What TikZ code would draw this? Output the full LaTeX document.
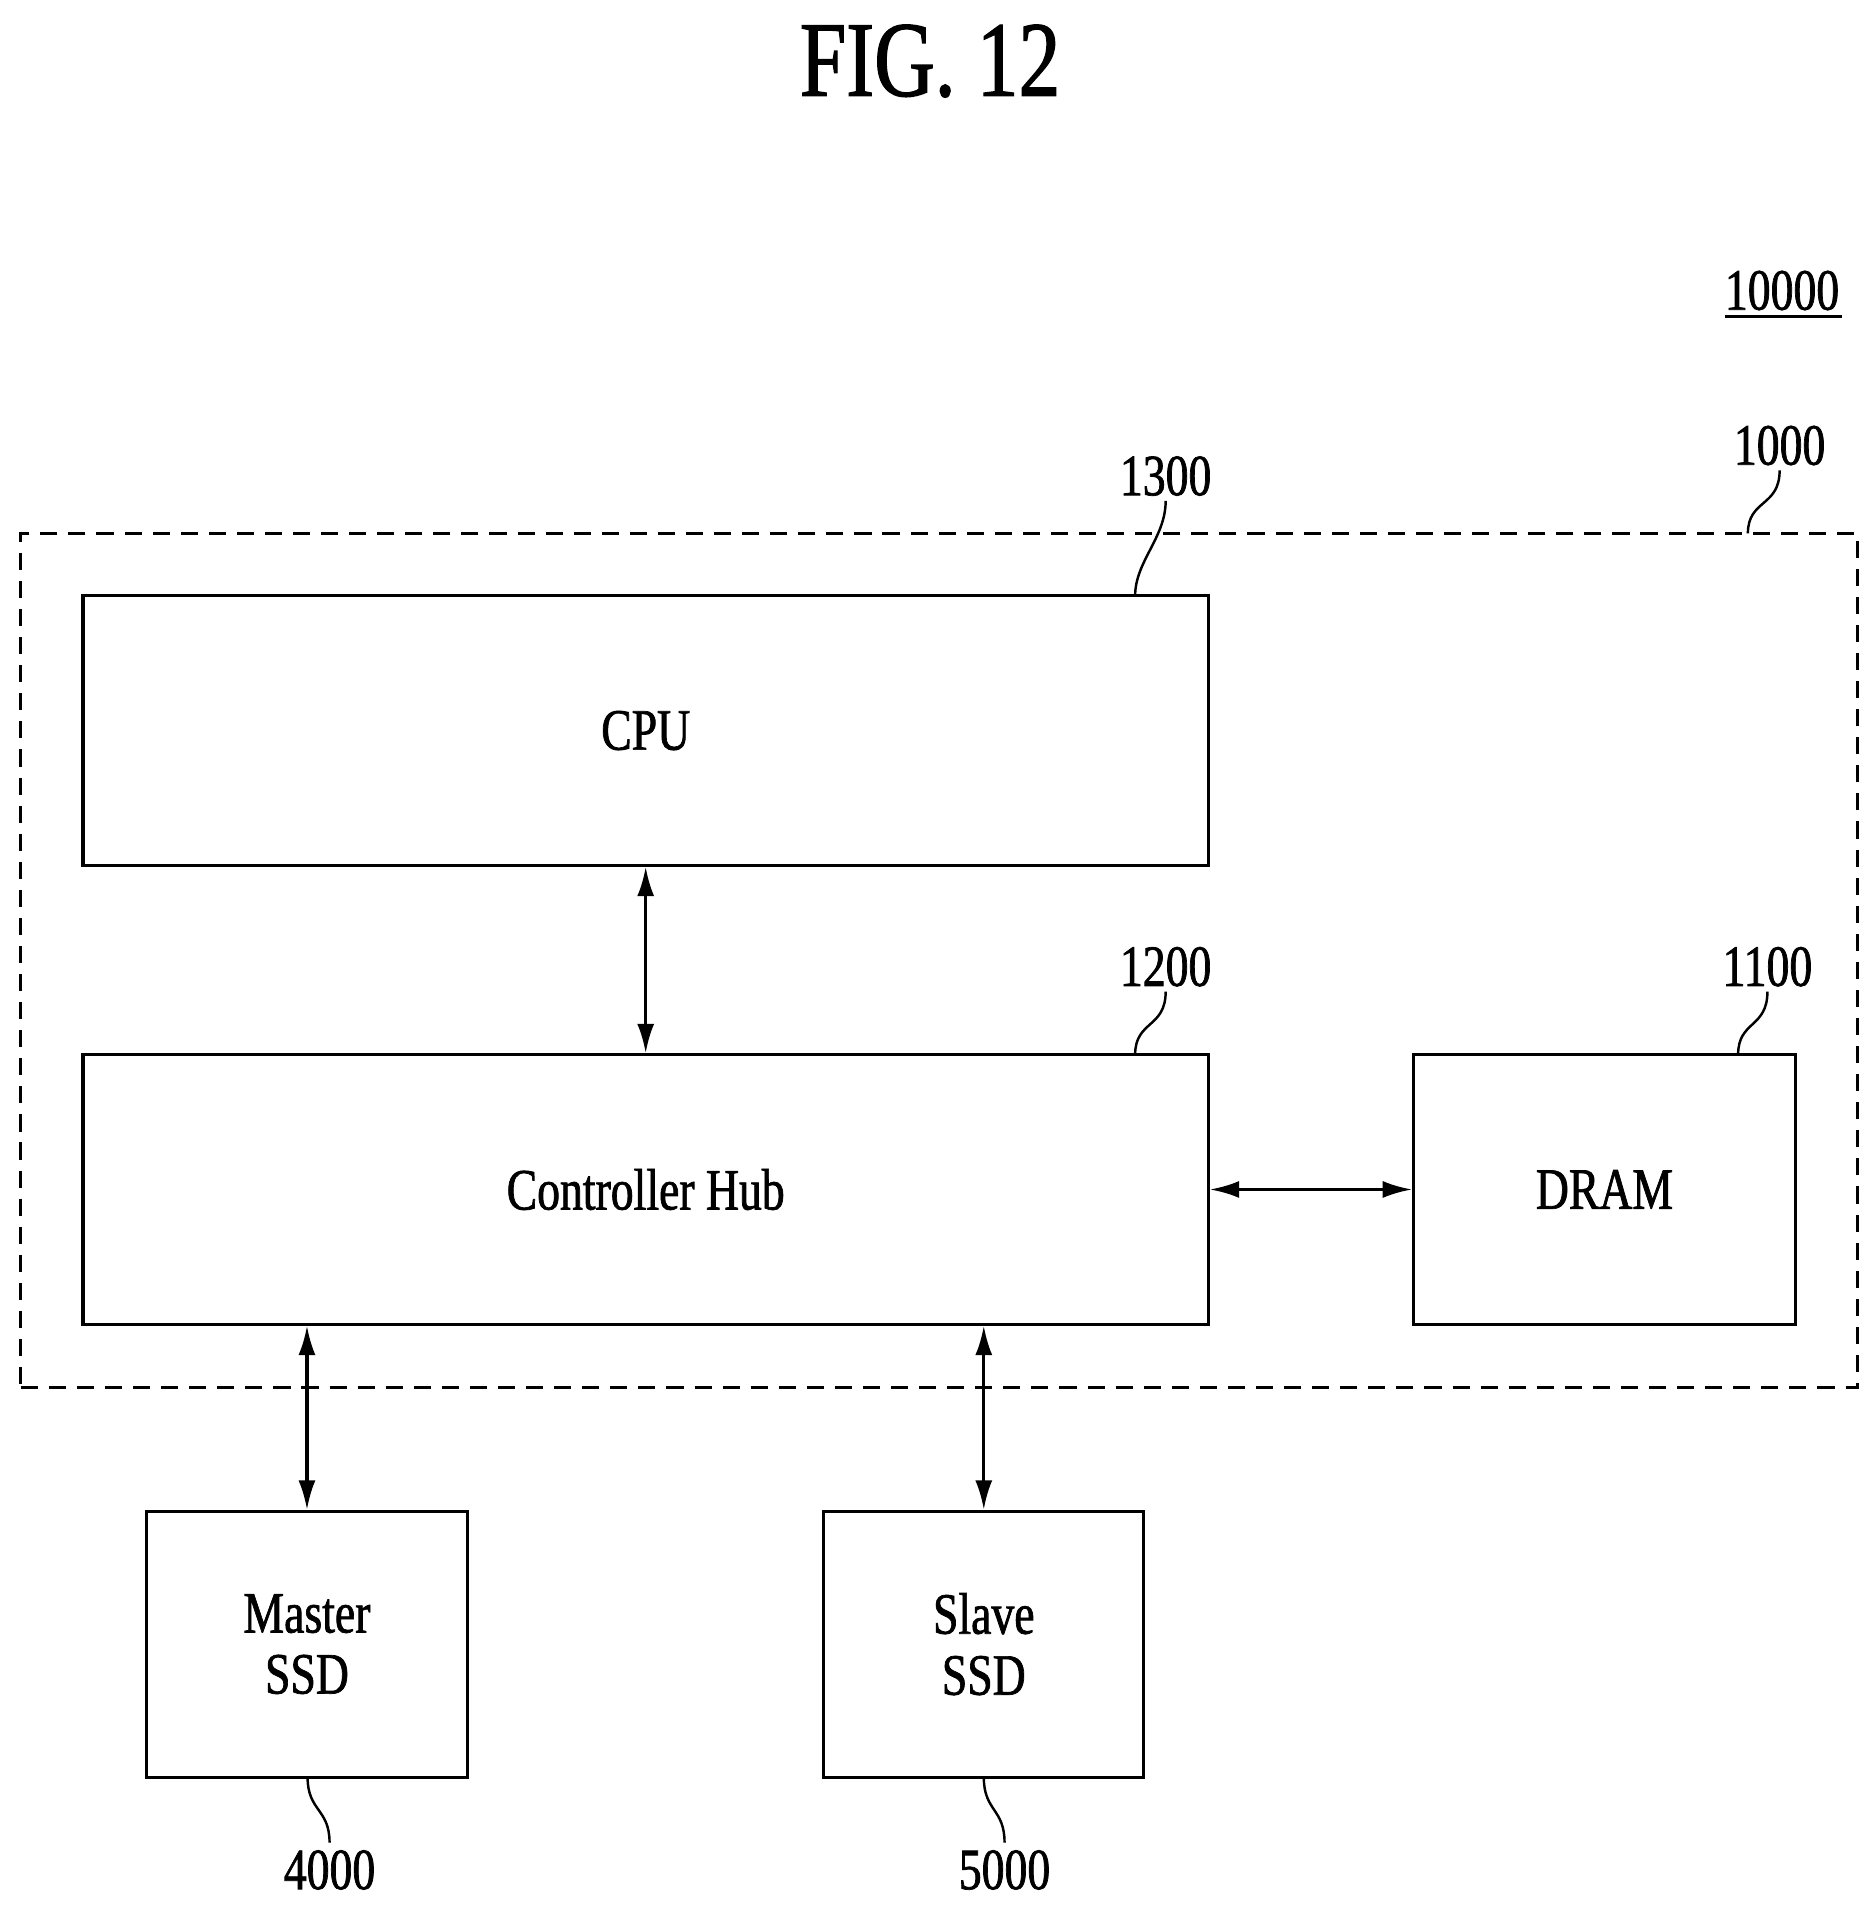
\documentclass[tikz,border=0pt]{standalone}
\usepackage{fontspec}
\setmainfont[FakeStretch=0.78,FakeBold=1.2]{Liberation Serif}
\usetikzlibrary{arrows.meta}
\begin{document}
\begin{tikzpicture}[x=1pt,y=-1pt,
  box/.style={draw,line width=2.5pt,inner sep=0pt,font=\fontsize{48}{48}\selectfont,align=center},
  num/.style={font=\fontsize{48}{50}\selectfont,inner sep=0pt},
  lead/.style={line width=2pt},
  link/.style={line width=2.5pt,{Latex[length=24pt,width=14pt]}-{Latex[length=24pt,width=14pt]}}]
\useasboundingbox (0,0) rectangle (1536,1564);
\node[font=\fontsize{88}{90}\selectfont] (title) at (762,50) {FIG. 12};
\node[num] (n10000) at (1460,238) {10000};
\draw[line width=2.5pt] (n10000.south west)++(0,5) -- ++(96,0);
\node[box,dash pattern=on 14pt off 9pt,minimum width=1505pt,minimum height=700pt] (sys) at (769.5,787) {};
\node[box,minimum width=922pt,minimum height=221pt] (cpu) at (529,598.5) {CPU};
\node[box,minimum width=922pt,minimum height=221pt] (hub) at (529,974.5) {Controller Hub};
\node[box,minimum width=313pt,minimum height=221pt] (dram) at (1314.5,974.5) {DRAM};
\node[box,minimum width=263pt,minimum height=218pt] (mssd) at (251.5,1347) {Master\\[2pt]SSD};
\node[box,minimum width=262pt,minimum height=218pt] (sssd) at (806,1347) {Slave\\[2pt]SSD};
\node[num] (n1000) at (1458,365) {1000};
\node[num] (n1300) at (955,390) {1300};
\node[num] (n1200) at (955,792) {1200};
\node[num] (n1100) at (1448,792) {1100};
\node[num] (n4000) at (270,1532) {4000};
\node[num] (n5000) at (823,1532) {5000};
\coordinate (c1000) at (1432,437);
\coordinate (c1300) at (930,488);
\coordinate (c1200) at (930,864);
\coordinate (c1100) at (1424,864);
\coordinate (c4000) at (252,1456);
\coordinate (c5000) at (806,1456);
\foreach \n/\c in {n1000/c1000,n1300/c1300,n1200/c1200,n1100/c1100}{
  \draw[lead] ([yshift=-4pt]\n.south) .. controls +(0,30) and +(0,-28) .. (\c);}
\foreach \n/\c in {n4000/c4000,n5000/c5000}{
  \draw[lead] (\c) .. controls +(0,28) and +(0,-28) .. ([yshift=6pt]\n.north);}
\draw[link] (cpu.south) -- (hub.north);
\draw[link] (hub.east) -- (dram.west);
\draw[link] (hub.south -| mssd.north) -- (mssd.north);
\draw[link] (hub.south -| sssd.north) -- (sssd.north);
\end{tikzpicture}
\end{document}
